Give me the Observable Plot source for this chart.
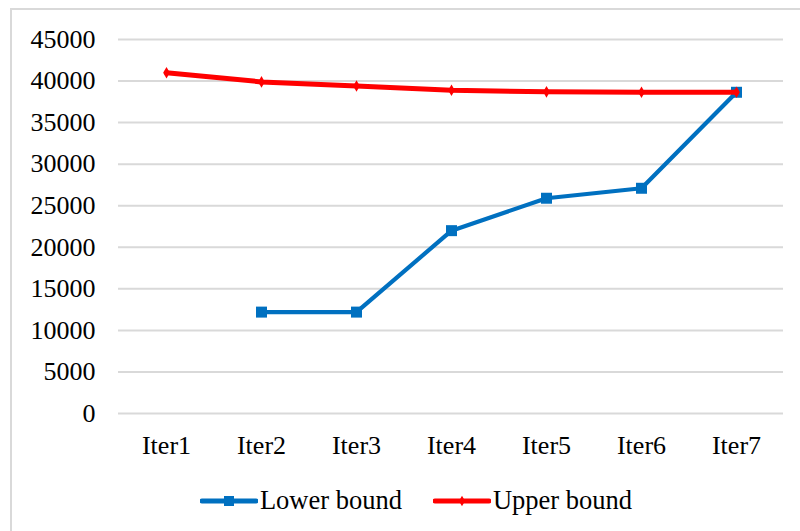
<!DOCTYPE html>
<html>
<head>
<meta charset="utf-8">
<script src="https://cdn.jsdelivr.net/npm/d3@7"></script>
<script src="https://cdn.jsdelivr.net/npm/@observablehq/plot@0.6"></script>
<style>
  html, body { margin: 0; padding: 0; background: #fff; }
  body { width: 800px; height: 531px; overflow: hidden; position: relative; font-family: 'Liberation Serif', serif; }
  #frame { position: absolute; left: 10px; top: 8px; width: 800px; height: 540px; border-left: 2px solid #d9d9d9; border-top: 2px solid #d9d9d9; }
  #chart svg text { font-family: 'Liberation Serif', serif !important; }
  #legend { position: absolute; left: 10px; top: 475px; width: 788px; display: flex; justify-content: center; align-items: center; font-family: 'Liberation Serif', serif; font-size: 26.5px; color: #000; }
  .item { display: flex; align-items: center; margin: 0 2px; }
  .item svg { margin-right: 2px; }
  .gap { width: 27px; }
</style>
</head>
<body>
<div id="frame"><div id="chart"></div><div id="legend"></div></div>
<script>
// Iteration labels along the x axis
const iterations = ["Iter1", "Iter2", "Iter3", "Iter4", "Iter5", "Iter6", "Iter7"];
// Upper bound per iteration
const upperBound = [41000, 39900, 39400, 38900, 38700, 38650, 38650];
// Lower bound per iteration (none at the first iteration)
const lowerBound = [null, 12200, 12200, 22000, 25900, 27100, 38650];
// Y axis tick values
const yTicks = [0, 5000, 10000, 15000, 20000, 25000, 30000, 35000, 40000, 45000];

const seriesNames = ["Lower bound", "Upper bound"];
const colors = ["#0070C0", "#FF0000"];

const lower = iterations.map((it, i) => ({iter: it, value: lowerBound[i]})).filter(d => d.value != null);
const upper = iterations.map((it, i) => ({iter: it, value: upperBound[i]}));

const chart = Plot.plot({
  width: 788,
  height: 462,
  marginLeft: 106,
  marginRight: 17,
  marginTop: 29,
  marginBottom: 59,
  style: {fontFamily: "'Liberation Serif', serif", fontSize: "26px", color: "#000", background: "#fff"},
  x: {type: "point", domain: iterations, padding: 0.5, label: null},
  y: {domain: [0, 45000], label: null},
  marks: [
    Plot.ruleY(yTicks, {stroke: "#d9d9d9", strokeWidth: 2}),
    Plot.axisX({tickSize: 0, tickPadding: 22, fontSize: 26, fontFamily: "'Liberation Serif', serif"}),
    Plot.axisY({ticks: yTicks, tickFormat: "d", tickSize: 0, tickPadding: 23, fontSize: 26, fontFamily: "'Liberation Serif', serif"}),
    Plot.line(lower, {x: "iter", y: "value", stroke: colors[0], strokeWidth: 4.2, strokeLinejoin: "round"}),
    Plot.dot(lower, {x: "iter", y: "value", symbol: "square", r: 6.2, fill: colors[0], stroke: "none"}),
    Plot.line(upper, {x: "iter", y: "value", stroke: colors[1], strokeWidth: 5, strokeLinejoin: "round"}),
    Plot.dot(upper, {x: "iter", y: "value", symbol: "diamond", r: 3.5, fill: colors[1], stroke: "none"})
  ]
});
document.getElementById("chart").appendChild(chart);

// Legend with line-and-marker swatches
const legend = d3.select("#legend");
seriesNames.forEach((name, i) => {
  if (i > 0) legend.append("div").attr("class", "gap");
  const item = legend.append("div").attr("class", "item");
  const sw = item.append("svg").attr("width", 58).attr("height", 20);
  sw.append("line").attr("x1", 2).attr("x2", 56).attr("y1", 10).attr("y2", 10)
    .attr("stroke", colors[i]).attr("stroke-width", 5).attr("stroke-linecap", "round");
  if (i === 0) {
    sw.append("rect").attr("x", 24).attr("y", 5).attr("width", 10).attr("height", 10).attr("fill", colors[i]);
  } else {
    sw.append("path").attr("d", d3.symbol(d3.symbolDiamond, 32)()).attr("transform", "translate(29,10)").attr("fill", colors[i]);
  }
  item.append("span").text(name);
});
</script>
</body>
</html>
